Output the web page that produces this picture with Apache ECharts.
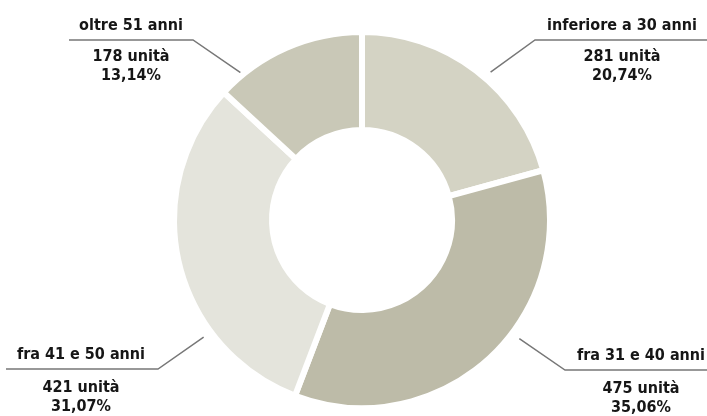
<!DOCTYPE html>
<html>
<head>
<meta charset="utf-8">
<script src="https://cdn.jsdelivr.net/npm/echarts@6/dist/echarts.min.js"></script>
<style>
html,body{margin:0;padding:0;background:#fff;}
#c{width:707px;height:416px;}
</style>
</head>
<body>
<div id="c"></div>
<script>
const categories = ['inferiore a 30 anni', 'fra 31 e 40 anni', 'fra 41 e 50 anni', 'oltre 51 anni'];
const units = [281, 475, 421, 178];
const unitLabel = 'unità';
const colors = ['#d4d3c4', '#bdbba8', '#e4e4dc', '#c9c8b7'];

const CX = 362, CY = 220;
const FONT = '"DejaVu Sans Condensed", "Liberation Sans Narrow", sans-serif';
const total = units.reduce(function (a, b) { return a + b; }, 0);
// label geometry per slice (angle clockwise from top, anchor distance, elbow, line end, text centre)
const layout = [
  { ang: 41, dist: 196, ex: 535, ey: 40, endX: 707, tx: 622, sp: 's' },
  { ang: 127, dist: 197, ex: 565, ey: 370, endX: 707, tx: 641, sp: 'sb' },
  { ang: 233.5, dist: 197, ex: 158, ey: 369, endX: 6, tx: 81, sp: 'sb' },
  { ang: 320.5, dist: 191, ex: 193, ey: 40, endX: 69, tx: 131, sp: 's' }
];

const chart = echarts.init(document.getElementById('c'), null, { renderer: 'canvas' });
chart.setOption({
  animation: false,
  series: [{
    type: 'pie',
    center: [CX, CY],
    radius: [90, 188],
    startAngle: 90,
    clockwise: true,
    silent: true,
    itemStyle: { borderColor: '#fff', borderWidth: 6 },
    label: {
      show: true,
      position: 'outside',
      overflow: 'none',
      formatter: function (p) {
        const pct = (p.value / total * 100).toFixed(2).replace('.', ',');
        const sp = layout[p.dataIndex].sp;
        return '{n|' + p.name + '}\n{' + sp + '| }\n{v|' + p.value + ' ' + unitLabel + '}\n{v|' + pct + '%}';
      },
      rich: {
        n: { fontFamily: FONT, fontWeight: 'bold', fontSize: 16, lineHeight: 20, color: '#161616', align: 'center' },
        s: { fontSize: 4, lineHeight: 12 },
        sb: { fontSize: 4, lineHeight: 14 },
        v: { fontFamily: FONT, fontWeight: 'bold', fontSize: 16, lineHeight: 19, color: '#161616', align: 'center' }
      }
    },
    labelLine: { show: true, lineStyle: { color: '#777', width: 1.5 } },
    labelLayout: function (params) {
      const L = layout[params.dataIndex];
      const a = L.ang * Math.PI / 180;
      const ax = CX + L.dist * Math.sin(a);
      const ay = CY - L.dist * Math.cos(a);
      return {
        x: L.tx,
        y: L.ey - 24.5,
        align: 'center',
        verticalAlign: 'top',
        labelLinePoints: [[ax, ay], [L.ex, L.ey], [L.endX, L.ey]]
      };
    },
    data: categories.map(function (c, i) {
      return { name: c, value: units[i], itemStyle: { color: colors[i] } };
    })
  }]
});
</script>
</body>
</html>
